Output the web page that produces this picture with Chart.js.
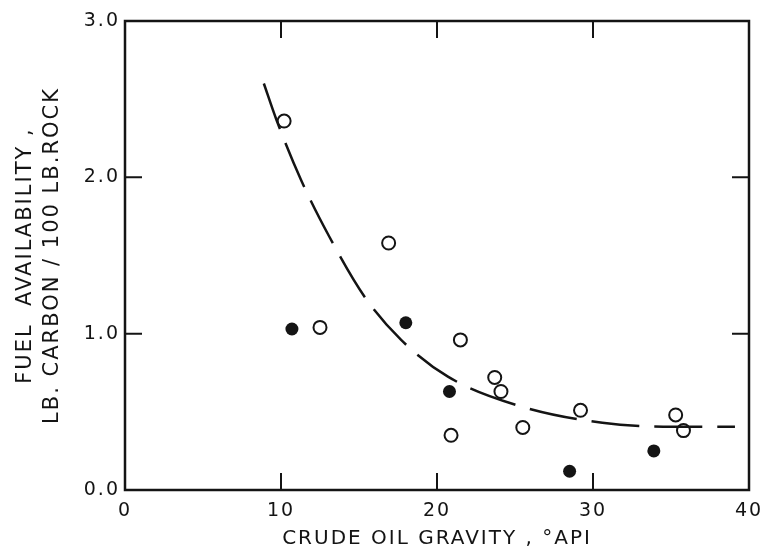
<!DOCTYPE html>
<html>
<head>
<meta charset="utf-8">
<script src="https://cdn.jsdelivr.net/npm/chart.js@4"></script>
<style>
  html, body { margin: 0; padding: 0; background: #fff; }
  #wrap { width: 764px; height: 554px; }
</style>
</head>
<body>
<div id="wrap"><canvas id="fuel"></canvas></div>
<script>
// open circles
const gravityOpen = [10.2, 12.5, 16.9, 21.5, 20.9, 23.7, 24.1, 25.5, 29.2, 35.3, 35.8];
const fuelOpen = [2.36, 1.04, 1.58, 0.96, 0.35, 0.72, 0.63, 0.40, 0.51, 0.48, 0.38];
// filled circles
const gravityFilled = [10.7, 18.0, 20.8, 28.5, 33.9];
const fuelFilled = [1.03, 1.07, 0.63, 0.12, 0.25];
// dashed trend line
const curveGravity = [8.9, 9.7, 11.3, 13.1, 15.4, 17.7, 20.7, 25.2, 30.6, 35.1, 39.1];
const curveFuel = [2.60, 2.37, 1.98, 1.62, 1.23, 0.96, 0.725, 0.54, 0.43, 0.405, 0.405];
// ticks
const xTicks = [0, 10, 20, 30, 40];
const yTicks = [0, 1, 2, 3];

const ink = '#141414';
const font = 'DejaVu Sans';

function pairs(xs, ys) {
  return xs.map((x, i) => ({ x: x, y: ys[i] }));
}

// inner tick marks + box frame
const frame = {
  id: 'frame',
  beforeDraw(chart) {
    // lettering in the original is widely spaced
    chart.ctx.letterSpacing = '2px';
  },
  afterDraw(chart) {
    const ctx = chart.ctx;
    const a = chart.chartArea;
    const sx = chart.scales.x, sy = chart.scales.y;
    const len = 17;
    ctx.save();
    ctx.strokeStyle = ink;
    ctx.lineWidth = 2;
    ctx.beginPath();
    xTicks.slice(1, -1).forEach(v => {
      const px = sx.getPixelForValue(v);
      ctx.moveTo(px, a.bottom); ctx.lineTo(px, a.bottom - len);
      ctx.moveTo(px, a.top); ctx.lineTo(px, a.top + len);
    });
    yTicks.slice(1, -1).forEach(v => {
      const py = sy.getPixelForValue(v);
      ctx.moveTo(a.left, py); ctx.lineTo(a.left + len, py);
      ctx.moveTo(a.right, py); ctx.lineTo(a.right - len, py);
    });
    ctx.stroke();
    ctx.lineWidth = 2.5;
    ctx.strokeRect(a.left, a.top, a.right - a.left, a.bottom - a.top);
    ctx.restore();
  }
};

new Chart(document.getElementById('fuel'), {
  type: 'scatter',
  data: {
    datasets: [
      {
        label: 'trend',
        type: 'line',
        data: pairs(curveGravity, curveFuel),
        borderColor: ink,
        borderWidth: 2.5,
        borderDash: [48, 15],
        pointRadius: 0,
        cubicInterpolationMode: 'monotone',
        fill: false
      },
      {
        label: 'open',
        data: pairs(gravityOpen, fuelOpen),
        pointRadius: 6.5,
        pointBorderWidth: 2,
        pointBorderColor: ink,
        pointBackgroundColor: '#fff'
      },
      {
        label: 'filled',
        data: pairs(gravityFilled, fuelFilled),
        pointRadius: 6.5,
        pointBorderWidth: 0,
        pointBackgroundColor: ink
      }
    ]
  },
  options: {
    responsive: true,
    maintainAspectRatio: false,
    animation: false,
    layout: { padding: { top: 21, right: 15, left: 0, bottom: 0 } },
    plugins: { legend: { display: false }, tooltip: { enabled: false } },
    scales: {
      x: {
        type: 'linear',
        min: 0,
        max: 40,
        afterBuildTicks: s => { s.ticks = xTicks.map(v => ({ value: v })); },
        afterFit: s => { s.height = 64; s.paddingLeft = 0; s.paddingRight = 0; },
        grid: { display: false, drawTicks: false },
        border: { display: false },
        ticks: { color: ink, padding: 10, font: { family: font, size: 19 } },
        title: {
          display: true,
          text: 'CRUDE OIL GRAVITY , °API',
          color: ink,
          padding: { top: 0, bottom: 3 },
          font: { family: font, size: 20 }
        }
      },
      y: {
        type: 'linear',
        min: 0,
        max: 3,
        afterBuildTicks: s => { s.ticks = yTicks.map(v => ({ value: v })); },
        afterFit: s => { s.width = 125; s.paddingTop = 0; s.paddingBottom = 0; },
        grid: { display: false, drawTicks: false },
        border: { display: false },
        ticks: {
          color: ink,
          padding: 5,
          font: { family: font, size: 19 },
          callback: v => v.toFixed(1)
        },
        title: {
          display: true,
          text: ['FUEL  AVAILABILITY ,', 'LB. CARBON / 100 LB.ROCK'],
          color: ink,
          padding: { top: 11.5, bottom: 0 },
          font: { family: font, size: 21, lineHeight: 1.3 }
        }
      }
    }
  },
  plugins: [frame]
});
</script>
</body>
</html>
